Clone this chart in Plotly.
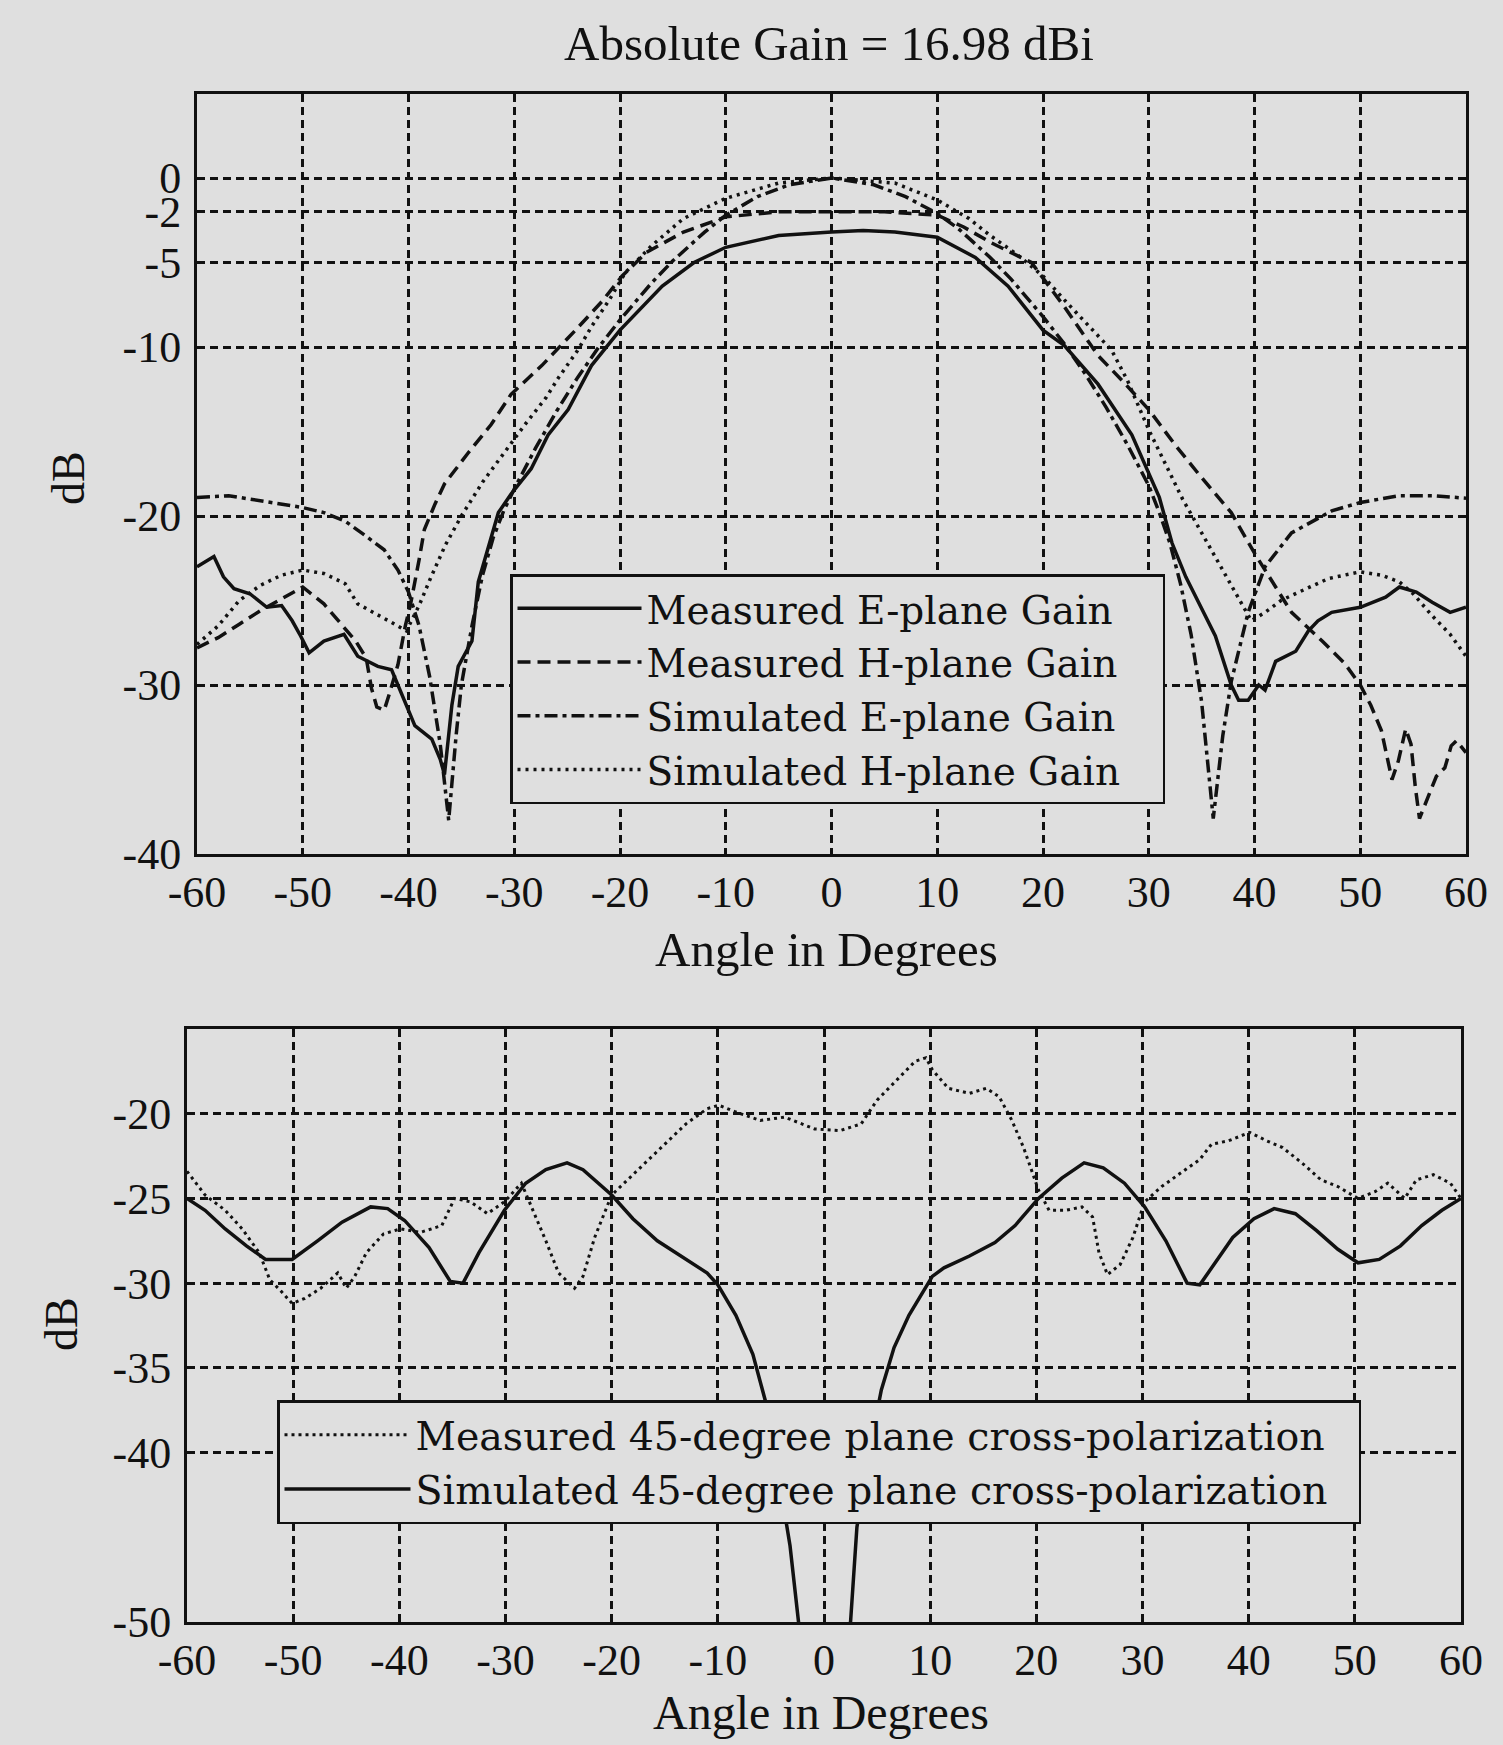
import plotly.graph_objects as go

# ---------------- Top plot data (angle in degrees, gain in dB) ----------------
meas_e_angle = [-60, -59, -58.4, -57.5, -56.5, -55, -53.4, -52, -51, -50.2, -49.4, -48, -46.1, -44.8, -42.9,
                -41.6, -40.4, -39.4, -37.8, -37, -36.6, -35.9, -35.3, -34, -33.4, -32.5, -31.5, -30.3, -28.4,
                -26.8, -24.9, -22.7, -20, -16, -13, -10, -5, 0, 3, 6, 10, 13.6, 16.7, 20, 22, 25.2, 28.4, 31,
                32.2, 33.5, 34.7, 36.3, 37.8, 38.5, 39.4, 40.4, 41, 42, 43.9, 45.1, 46, 47.3, 50, 52.4, 53.7,
                55.3, 56.8, 58.5, 60]
meas_e_gain = [-23, -22.6, -22.4, -23.6, -24.3, -24.6, -25.4, -25.3, -26.2, -27.1, -28.1, -27.4, -27.0, -28.3,
               -28.9, -29.1, -30.9, -32.4, -33.2, -34.4, -35.3, -31.2, -28.9, -27.4, -23.9, -21.9, -19.8, -18.7,
               -17.2, -15.2, -13.7, -11.1, -9.0, -6.4, -5.0, -4.1, -3.4, -3.2, -3.1, -3.2, -3.5, -4.7, -6.4, -9.0,
               -9.9, -12.2, -15.2, -18.9, -21.6, -23.6, -25.1, -27.1, -30.0, -30.9, -30.9, -30.0, -30.3, -28.6,
               -28.0, -26.8, -26.2, -25.7, -25.4, -24.8, -24.2, -24.5, -25.1, -25.7, -25.4]

meas_h_angle = [-60, -58, -56, -54, -52, -50, -48, -46.5, -45, -44, -43.5, -43, -42.3, -41.8, -41, -40.3, -39.8,
                -39, -38.5, -37.5, -36.6, -34.4, -32.2, -30.3, -27.4, -24.2, -21.7, -19.8, -17.5, -14, -10, -5,
                0, 5, 10, 12.5, 15, 17.5, 18.9, 22, 25.2, 27.5, 30, 32.5, 34.7, 37.8, 40, 42, 43.5, 46.4, 48.5,
                50, 51, 52, 53, 53.6, 54.3, 54.8, 55.2, 55.6, 56.3, 57.2, 58, 58.6, 59.1, 60]
meas_h_gain = [-27.8, -27.2, -26.4, -25.6, -24.9, -24.2, -25.2, -26.3, -27.4, -28.4, -30.2, -31.3, -31.5, -30.5,
               -28.8, -26.5, -25.2, -22.6, -20.8, -19.3, -18.1, -16.3, -14.6, -12.8, -11.1, -9.0, -7.3, -5.8,
               -4.4, -3.2, -2.3, -2.0, -2.0, -2.0, -2.2, -2.9, -3.8, -4.6, -5.0, -7.6, -10.5, -12.0, -13.7,
               -15.8, -17.5, -19.8, -22.2, -24.2, -25.7, -27.4, -28.7, -30.0, -31.2, -32.7, -35.6, -34.5, -32.6,
               -33.5, -36.0, -37.9, -36.8, -35.4, -34.9, -33.6, -33.3, -34.0]

sim_e_angle = [-60, -57, -55, -52, -50, -48, -46, -44, -42.3, -41, -40, -39, -38, -37, -36.2, -35.5, -35, -34,
               -33, -32, -31, -30, -28, -26, -24, -22, -20, -17, -15, -12, -10, -7, -4, 0, 4, 7, 10, 12, 15, 17,
               20, 22, 24, 26, 28, 30, 31, 32, 33, 34, 35, 36.1, 37, 37.8, 39.4, 41, 43.5, 47.3, 50, 53.7, 57, 60]
sim_e_gain = [-18.9, -18.8, -19.0, -19.3, -19.5, -19.8, -20.3, -21.2, -22.0, -23.2, -24.5, -26.5, -29.5, -33.5,
              -38.0, -33.0, -30.0, -26.5, -23.5, -21.3, -19.7, -18.4, -16.0, -13.8, -11.8, -10.0, -8.4, -6.2,
              -4.9, -3.2, -2.2, -1.1, -0.4, 0, -0.4, -1.1, -2.1, -3.0, -4.7, -6.0, -8.2, -9.8, -11.6, -13.6,
              -15.8, -18.2, -19.8, -21.6, -24.0, -27.0, -31.0, -37.9, -33.0, -29.8, -25.7, -23.0, -21.0, -19.7,
              -19.2, -18.8, -18.8, -18.95]

sim_h_angle = [-60, -58, -56, -54, -52, -50, -48, -46, -44.8, -43, -41.6, -40.2, -39, -38, -36.5, -35, -33, -31,
               -29, -27, -25.8, -24, -22.7, -21, -19.5, -17, -14, -10, -5, 0, 6, 10, 13, 15, 17.5, 20, 22, 25,
               26.5, 28, 30, 33.2, 36.3, 38, 39.7, 41, 42.5, 44.2, 47, 50, 52, 53.7, 55, 56.8, 58.5, 60]
sim_h_gain = [-27.6, -26.5, -25.0, -24.1, -23.5, -23.2, -23.4, -24.0, -25.2, -25.8, -26.3, -26.8, -25.3, -23.8,
              -21.7, -20.0, -18.0, -16.3, -14.6, -13.0, -11.8, -10.2, -8.8, -7.2, -5.6, -4.0, -2.4, -1.2, -0.3,
              0, -0.3, -1.3, -2.4, -3.4, -4.5, -5.8, -7.2, -9.2, -10.2, -12.0, -14.9, -19.0, -22.4, -24.3,
              -26.2, -25.7, -25.0, -24.5, -23.7, -23.3, -23.5, -23.9, -24.6, -25.9, -27.0, -28.3]

# ---------------- Bottom plot data (cross-polarization) ----------------
xpol_meas_angle = [-60, -58.3, -56.4, -54.8, -53.2, -52.2, -51.1, -50.1, -48.9, -47.4, -45.8, -45, -44.2, -43.1,
                   -41.5, -39.9, -38, -36, -34.8, -33.3, -31.7, -30.1, -28.5, -27.4, -26.2, -25, -23.5, -22.7,
                   -21.6, -20, -17.7, -15.3, -13, -11, -9.9, -8.3, -6, -3.7, -0.9, 1.5, 3.5, 5, 7, 8.6, 9.6,
                   10.2, 11.7, 13.7, 15.3, 16.5, 17.7, 18.8, 20.2, 21.2, 22.8, 24.3, 25.3, 25.9, 26.7, 27.9,
                   29.1, 30.2, 31.8, 33.8, 35.4, 36.5, 38.1, 40.1, 41.7, 43.2, 45.2, 46.8, 48.4, 50.3, 51.9,
                   53.1, 54.7, 55.8, 57.4, 59, 60]
xpol_meas_gain = [-23.4, -24.8, -25.7, -26.8, -28.2, -29.8, -30.5, -31.2, -30.9, -30.3, -29.4, -30.3, -29.6,
                  -28.2, -27.1, -26.8, -27.0, -26.6, -25.0, -25.2, -25.9, -25.2, -24.1, -25.7, -27.5, -29.4,
                  -30.3, -29.6, -27.3, -24.8, -23.4, -22.0, -20.6, -19.7, -19.5, -19.9, -20.4, -20.2, -20.9,
                  -21.0, -20.6, -19.2, -17.9, -16.9, -16.7, -17.4, -18.5, -18.8, -18.5, -19.0, -20.4, -22.0,
                  -24.5, -25.7, -25.7, -25.5, -26.1, -28.2, -29.5, -28.9, -27.3, -25.2, -24.3, -23.4, -22.7,
                  -21.8, -21.6, -21.1, -21.6, -22.0, -23.0, -23.9, -24.3, -25.0, -24.6, -24.1, -25.0, -23.9,
                  -23.6, -24.1, -25.0]

xpol_sim_angle = [-60, -58.3, -56.4, -54.4, -52.6, -50.1, -47.7, -45.4, -42.7, -41.1, -39.5, -37.2, -35.2, -34,
                  -32.5, -30.1, -28.1, -26.2, -24.2, -22.7, -20, -18, -15.7, -13.3, -11, -10, -8.3, -6.7, -5.5,
                  -4.4, -3.2, -2.4, -2.0, 0, 2.0, 2.5, 3.1, 4.3, 5.4, 6.6, 8, 10.2, 11.3, 13.7, 16.1, 18, 20.2,
                  22.4, 24.5, 26.3, 28.3, 30.2, 32.2, 34.2, 35.4, 37, 38.5, 40.5, 42.4, 44.4, 46.4, 48.4, 50.3,
                  52.3, 54.3, 56.3, 58.2, 60]
xpol_sim_gain = [-25, -25.7, -26.8, -27.8, -28.6, -28.6, -27.5, -26.4, -25.5, -25.6, -26.3, -27.9, -29.9, -30.0,
                 -28.2, -25.7, -24.1, -23.3, -22.9, -23.3, -24.8, -26.2, -27.5, -28.5, -29.4, -30.1, -31.9, -34.2,
                 -37.0, -40.9, -45.5, -50.0, -53, None, -53, -50.0, -44.4, -39.8, -36.3, -33.8, -31.9, -29.6,
                 -29.1, -28.4, -27.6, -26.6, -25.0, -23.8, -22.9, -23.2, -24.1, -25.5, -27.5, -30.0, -30.1,
                 -28.7, -27.3, -26.2, -25.6, -25.9, -26.9, -28.0, -28.8, -28.6, -27.8, -26.6, -25.7, -25.0]

x_ticks = [-60, -50, -40, -30, -20, -10, 0, 10, 20, 30, 40, 50, 60]
top_y_ticks = [0, -2, -5, -10, -20, -30, -40]
bot_y_ticks = [-20, -25, -30, -35, -40, -50]

FONT = "Liberation Serif"
LEG_FONT = "DejaVu Serif"
INK = "#111111"
BG = "#dfdfdf"
PAD = "\u00a0" * 3

fig = go.Figure()

top_series = [
    ("Measured E-plane Gain", meas_e_angle, meas_e_gain, "solid", 3.5),
    ("Measured H-plane Gain", meas_h_angle, meas_h_gain, "13px,7px", 3.5),
    ("Simulated E-plane Gain", sim_e_angle, sim_e_gain, "13px,5px,4px,5px", 3.5),
    ("Simulated H-plane Gain", sim_h_angle, sim_h_gain, "3px,5px", 3.5),
]
for name, xs, ys, dash, w in top_series:
    fig.add_trace(go.Scatter(x=xs, y=ys, mode="lines", name=name + PAD,
                             line=dict(color=INK, width=w, dash=dash),
                             xaxis="x", yaxis="y", legend="legend"))

bot_series = [
    ("Measured 45-degree plane cross-polarization", xpol_meas_angle, xpol_meas_gain, "3px,4px", 3),
    ("Simulated 45-degree plane cross-polarization", xpol_sim_angle, xpol_sim_gain, "solid", 3.5),
]
for name, xs, ys, dash, w in bot_series:
    fig.add_trace(go.Scatter(x=xs, y=ys, mode="lines", name=name + "\u00a0\u00a0", connectgaps=False,
                             line=dict(color=INK, width=w, dash=dash),
                             xaxis="x2", yaxis="y2", legend="legend2"))

W, H = 1503, 1745


def axis_common():
    return dict(showgrid=True, gridcolor=INK, gridwidth=2.5, griddash="8px,5px",
                showline=True, mirror=True, linecolor=INK, linewidth=3,
                zeroline=False, ticks="", automargin=False,
                tickfont=dict(family=FONT, size=44, color=INK))


fig.update_layout(
    width=W, height=H, autosize=False,
    margin=dict(l=0, r=0, t=0, b=0, pad=0, autoexpand=False),
    paper_bgcolor=BG, plot_bgcolor=BG,
    font=dict(family=FONT, color=INK),
    xaxis=dict(domain=[197 / W, 1466 / W], anchor="y", range=[-60, 60],
               tickvals=x_ticks, ticktext=[str(v) for v in x_ticks], ticklabelstandoff=-3,
               **axis_common()),
    yaxis=dict(domain=[1 - 854 / H, 1 - 93.5 / H], anchor="x", range=[-40, 5],
               tickvals=top_y_ticks, ticktext=[str(v) for v in top_y_ticks], ticklabelstandoff=4,
               **axis_common()),
    xaxis2=dict(domain=[187 / W, 1461 / W], anchor="y2", range=[-60, 60],
                tickvals=x_ticks, ticktext=[str(v) for v in x_ticks], ticklabelstandoff=-3,
                **axis_common()),
    yaxis2=dict(domain=[1 - 1622 / H, 1 - 1029 / H], anchor="x2", range=[-50, -15],
                tickvals=bot_y_ticks, ticktext=[str(v) for v in bot_y_ticks], ticklabelstandoff=4,
                **axis_common()),
    legend=dict(x=510 / W, y=1 - 574 / H, xanchor="left", yanchor="top",
                bgcolor=BG, bordercolor=INK, borderwidth=2.5, itemwidth=124,
                font=dict(family=LEG_FONT, size=39, color=INK), tracegroupgap=0),
    legend2=dict(x=277 / W, y=1 - 1400 / H, xanchor="left", yanchor="top",
                 bgcolor=BG, bordercolor=INK, borderwidth=2.5, itemwidth=126,
                 font=dict(family=LEG_FONT, size=39.5, color=INK), tracegroupgap=0),
    annotations=[
        dict(text="Absolute Gain = 16.98 dBi", x=829 / W, y=1 - 44 / H, xref="paper", yref="paper",
             showarrow=False, xanchor="center", yanchor="middle", font=dict(family=FONT, size=49, color=INK)),
        dict(text="Angle in Degrees", x=826 / W, y=1 - 949 / H, xref="paper", yref="paper",
             showarrow=False, xanchor="center", yanchor="middle", font=dict(family=FONT, size=49, color=INK)),
        dict(text="dB", x=69 / W, y=1 - 478 / H, xref="paper", yref="paper", textangle=-90,
             showarrow=False, xanchor="center", yanchor="middle", font=dict(family=FONT, size=46, color=INK)),
        dict(text="Angle in Degrees", x=821 / W, y=1 - 1712 / H, xref="paper", yref="paper",
             showarrow=False, xanchor="center", yanchor="middle", font=dict(family=FONT, size=48, color=INK)),
        dict(text="dB", x=61 / W, y=1 - 1324 / H, xref="paper", yref="paper", textangle=-90,
             showarrow=False, xanchor="center", yanchor="middle", font=dict(family=FONT, size=46, color=INK)),
    ],
)

fig.write_html("out.html")
